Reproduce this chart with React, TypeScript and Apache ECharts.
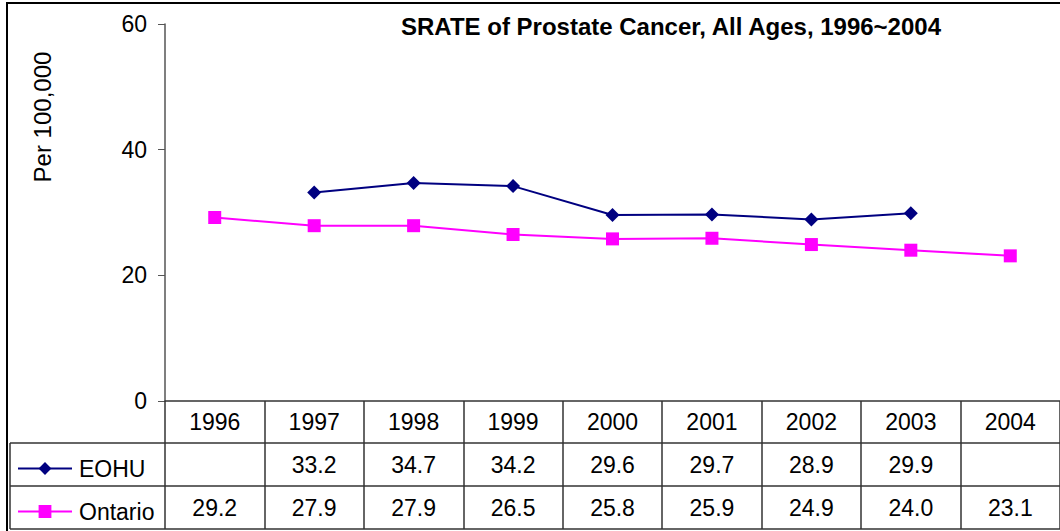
import React, { useEffect, useRef } from "react";
import * as echarts from "echarts";

const categories = ["1996", "1997", "1998", "1999", "2000", "2001", "2002", "2003", "2004"];
const eohu: (number | null)[] = [null, 33.2, 34.7, 34.2, 29.6, 29.7, 28.9, 29.9, null];
const ontario: (number | null)[] = [29.2, 27.9, 27.9, 26.5, 25.8, 25.9, 24.9, 24.0, 23.1];
const seriesNames = ["EOHU", "Ontario"];
const seriesColors = ["#000080", "#FF00FF"];
const titleText = "SRATE of Prostate Cancer, All Ages, 1996~2004";
const yAxisTitle = "Per 100,000";

const FONT = "'Liberation Sans', Arial, Helvetica, sans-serif";

export default function App() {
  const ref = useRef<HTMLDivElement>(null);
  useEffect(() => {
    if (!ref.current) return;
    const chart = echarts.init(ref.current, null, { renderer: "svg" });
    const rowY = [465, 508];
    const legendCommon = {
      orient: "horizontal",
      left: 12,
      padding: 5,
      itemWidth: 54,
      itemHeight: 16,
      itemGap: 0,
      textStyle: { fontFamily: FONT, fontSize: 23, color: "#000", padding: [0, 0, 0, 2] },
    };
    const base: any = {
      animation: false,
      backgroundColor: "#ffffff",
      grid: { left: 165, right: 0, top: 24, bottom: 130, containLabel: false },
      legend: [
        { ...legendCommon, top: rowY[0] - 13, data: [seriesNames[0]] },
        { ...legendCommon, top: rowY[1] - 13, data: [seriesNames[1]] },
      ],
      xAxis: {
        type: "category",
        data: categories,
        boundaryGap: true,
        axisLine: { show: true, lineStyle: { color: "#333", width: 1.5 } },
        axisTick: { show: true, interval: 0, length: 128, lineStyle: { color: "#333", width: 1.5 } },
        axisLabel: {
          interval: 0,
          margin: 21,
          verticalAlign: "middle",
          fontFamily: FONT,
          fontSize: 23,
          color: "#000",
        },
        splitLine: { show: false },
      },
      yAxis: {
        type: "value",
        min: 0,
        max: 60,
        interval: 20,
        axisLine: { show: true, lineStyle: { color: "#555", width: 1.5 } },
        axisTick: { show: true, length: 7, inside: false, lineStyle: { color: "#555" } },
        axisLabel: { margin: 18, fontFamily: FONT, fontSize: 23, color: "#000" },
        splitLine: { show: false },
      },
      series: [
        {
          name: seriesNames[0],
          type: "line",
          data: eohu,
          color: seriesColors[0],
          symbol: "diamond",
          symbolSize: 14,
          lineStyle: { width: 2, color: seriesColors[0] },
          itemStyle: { color: seriesColors[0] },
        },
        {
          name: seriesNames[1],
          type: "line",
          data: ontario,
          color: seriesColors[1],
          symbol: "rect",
          symbolSize: 13,
          lineStyle: { width: 2, color: seriesColors[1] },
          itemStyle: { color: seriesColors[1] },
        },
      ],
    };
    chart.setOption(base);

    const lineStyle = { stroke: "#333", lineWidth: 1.5 };
    const graphics: any[] = [
      {
        type: "rect",
        shape: { x: 7, y: 3, width: 1100, height: 600 },
        style: { fill: "none", stroke: "#000", lineWidth: 2 },
        silent: true,
      },
      { type: "line", shape: { x1: 10, y1: 443, x2: 1060, y2: 443 }, style: lineStyle },
      { type: "line", shape: { x1: 10, y1: 486, x2: 1060, y2: 486 }, style: lineStyle },
      { type: "line", shape: { x1: 10, y1: 529, x2: 1060, y2: 529 }, style: lineStyle },
      { type: "line", shape: { x1: 10, y1: 443, x2: 10, y2: 529 }, style: lineStyle },
      {
        type: "text",
        x: 671,
        y: 26,
        style: {
          text: titleText,
          fontFamily: FONT,
          fontSize: 24,
          fontWeight: "bold",
          fill: "#000",
          align: "center",
          verticalAlign: "middle",
        },
      },
      {
        type: "text",
        x: 42,
        y: 117,
        rotation: Math.PI / 2,
        style: {
          text: yAxisTitle,
          fontFamily: FONT,
          fontSize: 24,
          fill: "#000",
          align: "center",
          verticalAlign: "middle",
        },
      },
    ];
    const rows = [eohu, ontario];
    categories.forEach((_, i) => {
      const x = chart.convertToPixel({ xAxisIndex: 0 }, i) as number;
      rows.forEach((row, r) => {
        const v = row[i];
        if (v == null) return;
        graphics.push({
          type: "text",
          x,
          y: rowY[r],
          style: {
            text: v.toFixed(1),
            fontFamily: FONT,
            fontSize: 23,
            fill: "#000",
            align: "center",
            verticalAlign: "middle",
          },
        });
      });
    });
    chart.setOption({ graphic: graphics });
    return () => chart.dispose();
  }, []);
  return (
    <div
      ref={ref}
      style={{ position: "fixed", left: 0, top: 0, width: 1060, height: 531 }}
    />
  );
}
